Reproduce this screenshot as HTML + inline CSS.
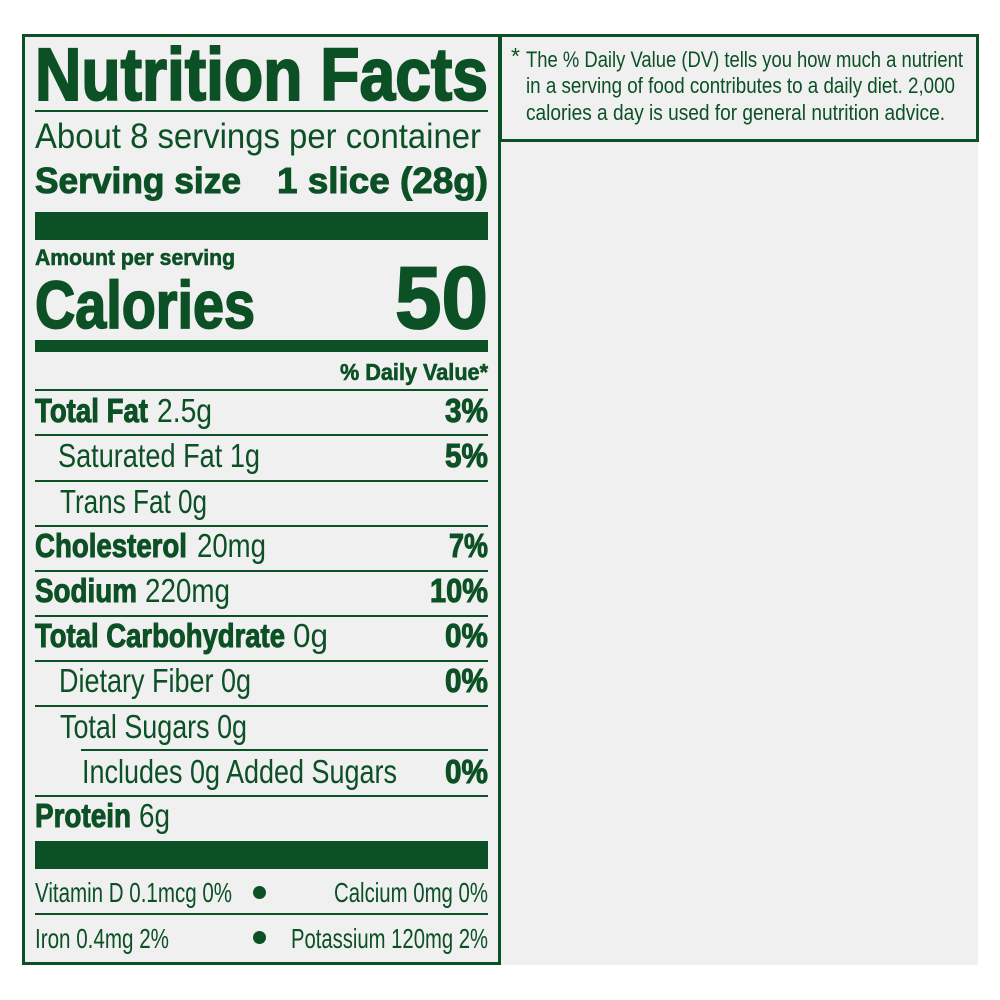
<!DOCTYPE html>
<html>
<head>
<meta charset="utf-8">
<style>
  html,body{margin:0;padding:0;background:#ffffff;}
  svg{display:block;}
  text{font-family:"Liberation Sans", Arial, sans-serif; fill:#0c5025;}
  .b{font-weight:bold;}
  .h{font-weight:bold; stroke:#0c5025; stroke-width:1;}
</style>
</head>
<body>
<svg width="1000" height="1000" viewBox="0 0 1000 1000" xmlns="http://www.w3.org/2000/svg">
  <rect x="0" y="0" width="1000" height="1000" fill="#ffffff"/>
  <rect x="22" y="34" width="956" height="931" fill="#f0f0f0"/>

  <!-- label border -->
  <rect x="23.5" y="35.5" width="476" height="928" fill="none" stroke="#0c5025" stroke-width="3"/>
  <!-- footnote box -->
  <rect x="500.5" y="35.5" width="477" height="105" fill="none" stroke="#0c5025" stroke-width="3"/>

  <!-- title -->
  <text x="35" y="100" font-size="74" class="b" style="stroke:#0c5025;stroke-width:2" textLength="453" lengthAdjust="spacingAndGlyphs">Nutrition Facts</text>
  <rect x="35" y="110" width="453" height="2" fill="#0c5025"/>

  <text x="35" y="148" font-size="35" textLength="446" lengthAdjust="spacingAndGlyphs">About 8 servings per container</text>
  <text x="35" y="193" font-size="36" class="h" textLength="206" lengthAdjust="spacingAndGlyphs">Serving size</text>
  <text x="277" y="193" font-size="36" class="h" textLength="211" lengthAdjust="spacingAndGlyphs">1 slice (28g)</text>

  <rect x="35" y="212" width="453" height="28" fill="#0c5025"/>

  <text x="35" y="265" font-size="22.5" class="h" style="stroke-width:0.6" textLength="200" lengthAdjust="spacingAndGlyphs">Amount per serving</text>
  <text x="35" y="328" font-size="67" class="b" style="stroke:#0c5025;stroke-width:1.8" textLength="220" lengthAdjust="spacingAndGlyphs">Calories</text>
  <text x="395" y="328" font-size="88" class="b" style="stroke:#0c5025;stroke-width:1.8" textLength="93" lengthAdjust="spacingAndGlyphs">50</text>

  <rect x="35" y="340" width="453" height="12" fill="#0c5025"/>

  <text x="340" y="380" font-size="23" class="h" style="stroke-width:0.6" textLength="148" lengthAdjust="spacingAndGlyphs">% Daily Value*</text>
  <rect x="35" y="389" width="453" height="2" fill="#0c5025"/>

  <!-- Total Fat -->
  <text x="35" y="422" font-size="33" class="h" textLength="113" lengthAdjust="spacingAndGlyphs">Total Fat</text>
  <text x="157" y="422" font-size="33" textLength="55" lengthAdjust="spacingAndGlyphs">2.5g</text>
  <text x="445" y="422" font-size="33" class="h" textLength="43" lengthAdjust="spacingAndGlyphs">3%</text>
  <rect x="35" y="434" width="453" height="2" fill="#0c5025"/>

  <!-- Saturated Fat -->
  <text x="58" y="467" font-size="33" textLength="202" lengthAdjust="spacingAndGlyphs">Saturated Fat 1g</text>
  <text x="445" y="467" font-size="33" class="h" textLength="43" lengthAdjust="spacingAndGlyphs">5%</text>
  <rect x="35" y="480" width="453" height="2" fill="#0c5025"/>

  <!-- Trans Fat -->
  <text x="60" y="513" font-size="33" textLength="147" lengthAdjust="spacingAndGlyphs">Trans Fat 0g</text>
  <rect x="35" y="525" width="453" height="2" fill="#0c5025"/>

  <!-- Cholesterol -->
  <text x="35" y="557" font-size="33" class="h" textLength="152" lengthAdjust="spacingAndGlyphs">Cholesterol</text>
  <text x="197" y="557" font-size="33" textLength="69" lengthAdjust="spacingAndGlyphs">20mg</text>
  <text x="449" y="557" font-size="33" class="h" textLength="39" lengthAdjust="spacingAndGlyphs">7%</text>
  <rect x="35" y="570" width="453" height="2" fill="#0c5025"/>

  <!-- Sodium -->
  <text x="35" y="602" font-size="33" class="h" textLength="102" lengthAdjust="spacingAndGlyphs">Sodium</text>
  <text x="145" y="602" font-size="33" textLength="85" lengthAdjust="spacingAndGlyphs">220mg</text>
  <text x="430" y="602" font-size="33" class="h" textLength="58" lengthAdjust="spacingAndGlyphs">10%</text>
  <rect x="35" y="615" width="453" height="2" fill="#0c5025"/>

  <!-- Total Carbohydrate -->
  <text x="35" y="647" font-size="33" class="h" textLength="250" lengthAdjust="spacingAndGlyphs">Total Carbohydrate</text>
  <text x="293" y="647" font-size="33" textLength="35" lengthAdjust="spacingAndGlyphs">0g</text>
  <text x="445" y="647" font-size="33" class="h" textLength="43" lengthAdjust="spacingAndGlyphs">0%</text>
  <rect x="35" y="660" width="453" height="2" fill="#0c5025"/>

  <!-- Dietary Fiber -->
  <text x="59" y="692" font-size="33" textLength="192" lengthAdjust="spacingAndGlyphs">Dietary Fiber 0g</text>
  <text x="445" y="692" font-size="33" class="h" textLength="43" lengthAdjust="spacingAndGlyphs">0%</text>
  <rect x="35" y="705" width="453" height="2" fill="#0c5025"/>

  <!-- Total Sugars -->
  <text x="60" y="738" font-size="33" textLength="187" lengthAdjust="spacingAndGlyphs">Total Sugars 0g</text>
  <rect x="81" y="749" width="407" height="2" fill="#0c5025"/>

  <!-- Added Sugars -->
  <text x="82" y="783" font-size="33" textLength="315" lengthAdjust="spacingAndGlyphs">Includes 0g Added Sugars</text>
  <text x="445" y="783" font-size="33" class="h" textLength="43" lengthAdjust="spacingAndGlyphs">0%</text>
  <rect x="35" y="795" width="453" height="2" fill="#0c5025"/>

  <!-- Protein -->
  <text x="35" y="827" font-size="33" class="h" textLength="96" lengthAdjust="spacingAndGlyphs">Protein</text>
  <text x="139" y="827" font-size="33" textLength="31" lengthAdjust="spacingAndGlyphs">6g</text>

  <rect x="35" y="841" width="453" height="28" fill="#0c5025"/>

  <!-- vitamins -->
  <text x="35" y="902" font-size="27.5" textLength="197" lengthAdjust="spacingAndGlyphs">Vitamin D 0.1mcg 0%</text>
  <circle cx="259.5" cy="892.5" r="6.5" fill="#0c5025"/>
  <text x="334" y="902" font-size="27.5" textLength="154" lengthAdjust="spacingAndGlyphs">Calcium 0mg 0%</text>
  <rect x="35" y="913" width="453" height="2" fill="#0c5025"/>

  <text x="35" y="948" font-size="27.5" textLength="134" lengthAdjust="spacingAndGlyphs">Iron 0.4mg 2%</text>
  <circle cx="259.5" cy="937.5" r="6.5" fill="#0c5025"/>
  <text x="291" y="948" font-size="27.5" textLength="197" lengthAdjust="spacingAndGlyphs">Potassium 120mg 2%</text>

  <!-- footnote -->
  <text x="511" y="64" font-size="23">*</text>
  <text x="526" y="67" font-size="22.5" textLength="437" lengthAdjust="spacingAndGlyphs">The % Daily Value (DV) tells you how much a nutrient</text>
  <text x="526" y="93" font-size="22.5" textLength="429" lengthAdjust="spacingAndGlyphs">in a serving of food contributes to a daily diet. 2,000</text>
  <text x="526" y="120" font-size="22.5" textLength="419" lengthAdjust="spacingAndGlyphs">calories a day is used for general nutrition advice.</text>
</svg>
</body>
</html>
